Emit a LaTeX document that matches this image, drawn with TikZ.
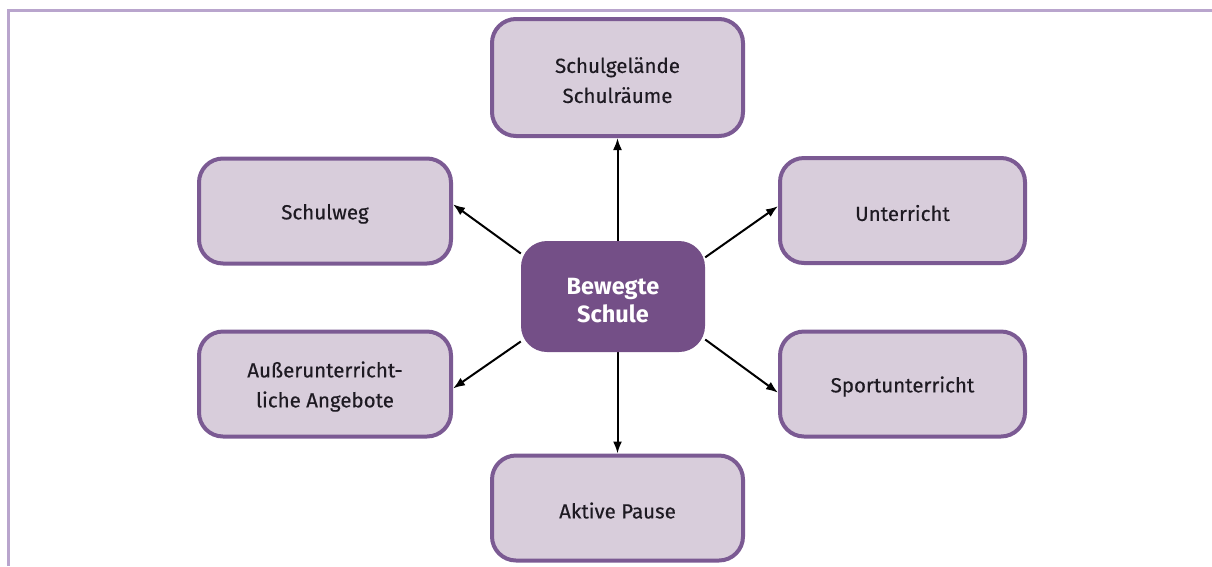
\documentclass[tikz,border=0pt]{standalone}
\usepackage{fontspec}
\setmainfont{Fira Sans}
\newfontfamily\topicfont[FakeBold=0.35]{Fira Sans}
\usetikzlibrary{arrows.meta,backgrounds,calc}
\definecolor{boxfill}{HTML}{D8CDDB}
\definecolor{boxline}{HTML}{7B5A93}
\definecolor{hubfill}{HTML}{744F87}
\definecolor{framecol}{HTML}{B9A5CD}
\definecolor{txt}{HTML}{1E1A22}
% a tall strut on the first line sets the text a little lower in its box
\newcommand\lowstrut{\rule{0pt}{1.03em}}
\tikzset{
  topic/.style={draw=boxline, line width=4pt, fill=boxfill, rounded corners=24pt,
    align=center, text=txt, font=\topicfont\fontsize{20.5}{30}\selectfont,
    minimum width=251pt, minimum height=105pt, inner sep=0pt,
    execute at begin node=\lowstrut},
  hub/.style={fill=hubfill, rounded corners=26pt, align=center, text=white,
    font=\fontsize{23.5}{28}\selectfont\bfseries,
    minimum width=184pt, minimum height=111pt, inner sep=0pt},
  link/.style={line width=2pt, black, -{Latex[length=12pt,width=9pt]}}
}
\begin{document}
\begin{tikzpicture}[x=1pt, y=-1pt]
  \useasboundingbox (0,0) rectangle (1212,566);
  % page frame
  \draw[framecol, line width=3pt] (8.5,566) -- (8.5,10.3) -- (1212,10.3);

  % central topic
  \node[hub] (c) at (613,296.5) {\lowstrut Bewegte\\Schule};

  % surrounding topics
  \node[topic, minimum height=117pt] (t) at (617.5,77.5) {\lowstrut Schulgelände\\Schulräume};
  \node[topic, minimum width=252pt] (w) at (325,211) {Schulweg};
  \node[topic, minimum width=245pt] (u) at (902.5,210.5) {Unterricht};
  \node[topic, minimum width=252pt] (a) at (325,384) {\lowstrut Außerunterricht-\\liche Angebote};
  \node[topic, minimum width=245pt] (s) at (902.5,384) {Sportunterricht};
  \node[topic] (p) at (617.5,508) {Aktive Pause};

  % connectors from the centre outwards
  \begin{scope}[on background layer]
    \draw[link] (t.south |- c.north) -- (t.south);
    \draw[link] (p.north |- c.south) -- (p.north);
    \draw[link] (c.155) -- (w.3);
    \draw[link] (c.23) -- (u.178);
    \draw[link] (c.206) -- (a.358);
    \draw[link] (c.-25) -- (s.184);
  \end{scope}
\end{tikzpicture}
\end{document}
